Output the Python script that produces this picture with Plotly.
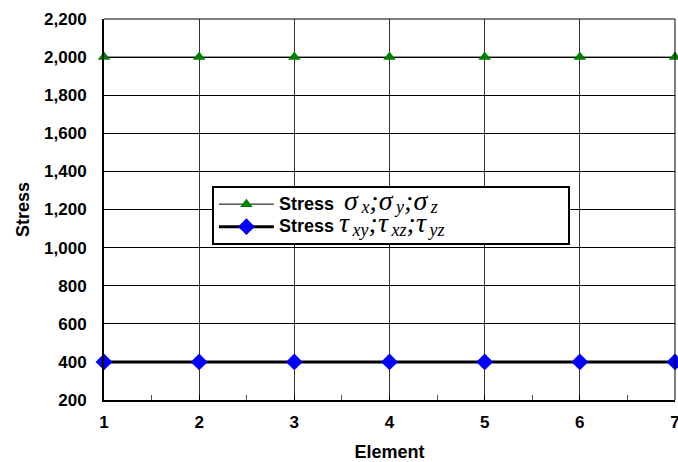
import plotly.graph_objects as go

elements = [1, 2, 3, 4, 5, 6, 7]
stress_normal = [2000, 2000, 2000, 2000, 2000, 2000, 2000]
stress_shear = [400, 400, 400, 400, 400, 400, 400]
y_ticks = [200, 400, 600, 800, 1000, 1200, 1400, 1600, 1800, 2000, 2200]

SANS = "Liberation Sans, Arial, sans-serif"
MF = "font-family:'Liberation Serif','Times New Roman',serif;font-weight:normal;font-style:italic;font-size:28px"
SF = "font-family:'Liberation Serif','Times New Roman',serif;font-weight:normal;font-style:italic;font-size:18px"
LB = "font-size:18px;font-weight:bold"

def sym(g, s):
    return f"<span style=\"{MF}\">{g}</span><sub><span style=\"{SF}\">\u2009{s}</span></sub>"

SEP = "<span style=\"" + MF + "\">;</span>"
PAD = "\u00a0" * 30
name1 = f"<span style=\"{LB}\">Stress\u00a0\u00a0</span>" + sym("σ", "x") + SEP + sym("σ", "y") + SEP + sym("σ", "z") + PAD
name2 = f"<span style=\"{LB}\">Stress\u00a0</span>" + sym("τ", "xy") + SEP + sym("τ", "xz") + SEP + sym("τ", "yz")

fig = go.Figure()
fig.add_trace(go.Scatter(
    x=elements, y=stress_normal, mode="lines+markers", name=name1,
    line=dict(color="black", width=1),
    marker=dict(symbol="triangle-up", color="#008000", size=11),
    cliponaxis=False,
))
fig.add_trace(go.Scatter(
    x=elements, y=stress_shear, mode="lines+markers", name=name2,
    line=dict(color="black", width=3),
    marker=dict(symbol="diamond", color="#0000FF", size=13),
    cliponaxis=False,
))

fig.update_layout(
    width=678, height=462,
    margin=dict(l=104, r=3, t=19, b=62),
    paper_bgcolor="white", plot_bgcolor="white",
    font=dict(family=SANS, size=17, color="black"),
    legend=dict(
        x=0.189, y=0.562, xanchor="left", yanchor="top",
        bgcolor="white", bordercolor="black", borderwidth=2,
        font=dict(size=15, family=SANS, color="black"),
        itemwidth=55, tracegroupgap=0,
    ),
    xaxis=dict(
        range=[1, 7], tickvals=elements, ticktext=[f"<b>{e}</b>" for e in elements],
        showgrid=True, gridcolor="#333333", gridwidth=1,
        showline=True, linecolor="black", linewidth=2, mirror=False,
        ticks="inside", ticklen=5, tickcolor="black",
        minor=dict(dtick=0.5, ticks="inside", ticklen=5, tickcolor="#555555", showgrid=False),
        tickfont=dict(size=17, family=SANS), ticklabelstandoff=6,
        ticklabeloverflow="allow",
        title=dict(text="<b>Element</b>", font=dict(size=18), standoff=14),
        zeroline=False, automargin=False,
    ),
    yaxis=dict(
        range=[200, 2200], tickvals=y_ticks, ticktext=[f"<b>{v:,}</b>" for v in y_ticks],
        showgrid=True, gridcolor="black", gridwidth=1,
        showline=True, linecolor="black", linewidth=2,
        ticks="outside", ticklen=12, tickcolor="rgba(0,0,0,0)",
        tickfont=dict(size=17, family=SANS), ticklabeloverflow="allow",
        title=dict(text="<b>Stress</b>", font=dict(size=18), standoff=10),
        zeroline=False, automargin=False,
    ),
)
fig.add_shape(type="line", xref="paper", yref="paper", x0=0, y0=1, x1=1, y1=1,
              line=dict(color="black", width=1), layer="above")
fig.add_shape(type="line", xref="paper", yref="paper", x0=1, y0=0, x1=1, y1=1,
              line=dict(color="black", width=1), layer="above")

fig.write_html(
    "out.html",
    config={"displayModeBar": False},
    post_script="document.body.style.margin='0';document.body.style.overflow='hidden';",
)
